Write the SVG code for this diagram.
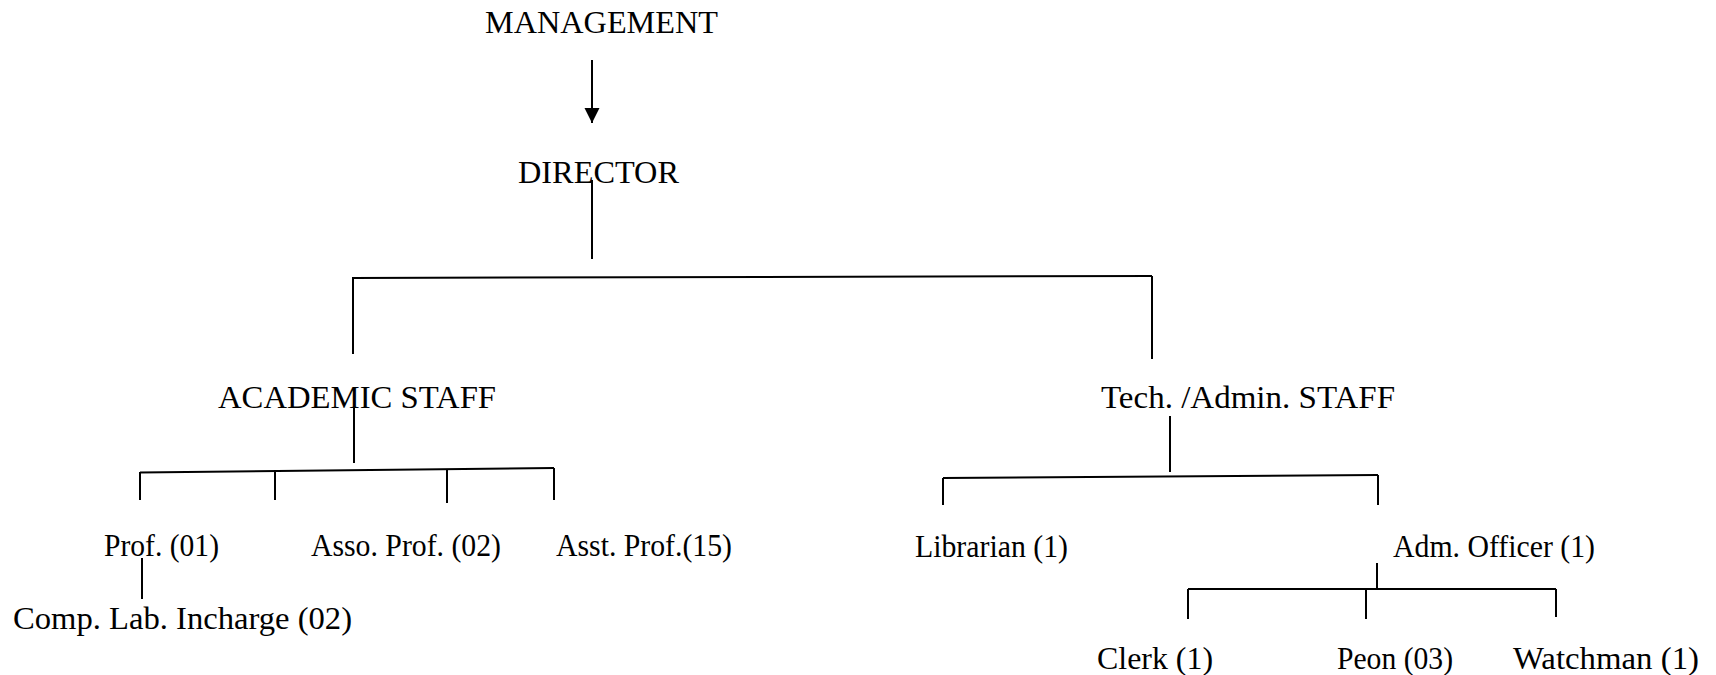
<svg xmlns="http://www.w3.org/2000/svg" width="1716" height="675" viewBox="0 0 1716 675">
<style>
text { font-family: "Liberation Serif", "Times New Roman", serif; font-size: 32px; fill: #000; }
.c { stroke: #000; stroke-width: 2; fill: none; }
</style>
<defs>
<marker id="arr" markerWidth="16" markerHeight="16" refX="15" refY="7.5" orient="auto" markerUnits="userSpaceOnUse">
<path d="M0,0 L15,7.5 L0,15 Z" fill="#000"/>
</marker>
</defs>
<rect width="1716" height="675" fill="#fff"/>
<g id="connectors">
<line class="c" x1="592" y1="60" x2="592" y2="123" marker-end="url(#arr)"/>
<line class="c" x1="592" y1="180" x2="592" y2="259"/>
<line class="c" x1="353" y1="278" x2="1152" y2="276"/>
<line class="c" x1="353" y1="277" x2="353" y2="354"/>
<line class="c" x1="1152" y1="276" x2="1152" y2="359"/>
<line class="c" x1="354" y1="407" x2="354" y2="463"/>
<line class="c" x1="140" y1="472.5" x2="554" y2="468"/>
<line class="c" x1="140" y1="472" x2="140" y2="500"/>
<line class="c" x1="275" y1="471" x2="275" y2="500"/>
<line class="c" x1="447" y1="470" x2="447" y2="503"/>
<line class="c" x1="554" y1="468" x2="554" y2="500"/>
<line class="c" x1="142" y1="558" x2="142" y2="599"/>
<line class="c" x1="1170" y1="416" x2="1170" y2="472"/>
<line class="c" x1="943" y1="478" x2="1378" y2="475"/>
<line class="c" x1="943" y1="478" x2="943" y2="505"/>
<line class="c" x1="1378" y1="475" x2="1378" y2="505"/>
<line class="c" x1="1377" y1="563" x2="1377" y2="590"/>
<line class="c" x1="1188" y1="589" x2="1556" y2="589"/>
<line class="c" x1="1188" y1="589" x2="1188" y2="619"/>
<line class="c" x1="1366" y1="589" x2="1366" y2="619"/>
<line class="c" x1="1556" y1="589" x2="1556" y2="617"/>
</g>
<g id="management"><text x="485" y="33" textLength="233" lengthAdjust="spacingAndGlyphs">MANAGEMENT</text></g>
<g id="director"><text x="518" y="183" textLength="161" lengthAdjust="spacingAndGlyphs">DIRECTOR</text></g>
<g id="academic"><text x="218" y="408" textLength="278" lengthAdjust="spacingAndGlyphs">ACADEMIC STAFF</text></g>
<g id="techadmin"><text x="1101" y="408" textLength="294" lengthAdjust="spacingAndGlyphs">Tech. /Admin. STAFF</text></g>
<g id="prof"><text x="104" y="556" textLength="115" lengthAdjust="spacingAndGlyphs">Prof. (01)</text></g>
<g id="assoprof"><text x="311" y="556" textLength="190" lengthAdjust="spacingAndGlyphs">Asso. Prof. (02)</text></g>
<g id="asstprof"><text x="556" y="556" textLength="176" lengthAdjust="spacingAndGlyphs">Asst. Prof.(15)</text></g>
<g id="complab"><text x="13" y="629" textLength="339" lengthAdjust="spacingAndGlyphs">Comp. Lab. Incharge (02)</text></g>
<g id="librarian"><text x="915" y="557" textLength="153" lengthAdjust="spacingAndGlyphs">Librarian (1)</text></g>
<g id="admofficer"><text x="1393" y="557" textLength="202" lengthAdjust="spacingAndGlyphs">Adm. Officer (1)</text></g>
<g id="clerk"><text x="1097" y="669" textLength="116" lengthAdjust="spacingAndGlyphs">Clerk (1)</text></g>
<g id="peon"><text x="1337" y="669" textLength="116" lengthAdjust="spacingAndGlyphs">Peon (03)</text></g>
<g id="watchman"><text x="1513" y="669" textLength="186" lengthAdjust="spacingAndGlyphs">Watchman (1)</text></g>
</svg>
